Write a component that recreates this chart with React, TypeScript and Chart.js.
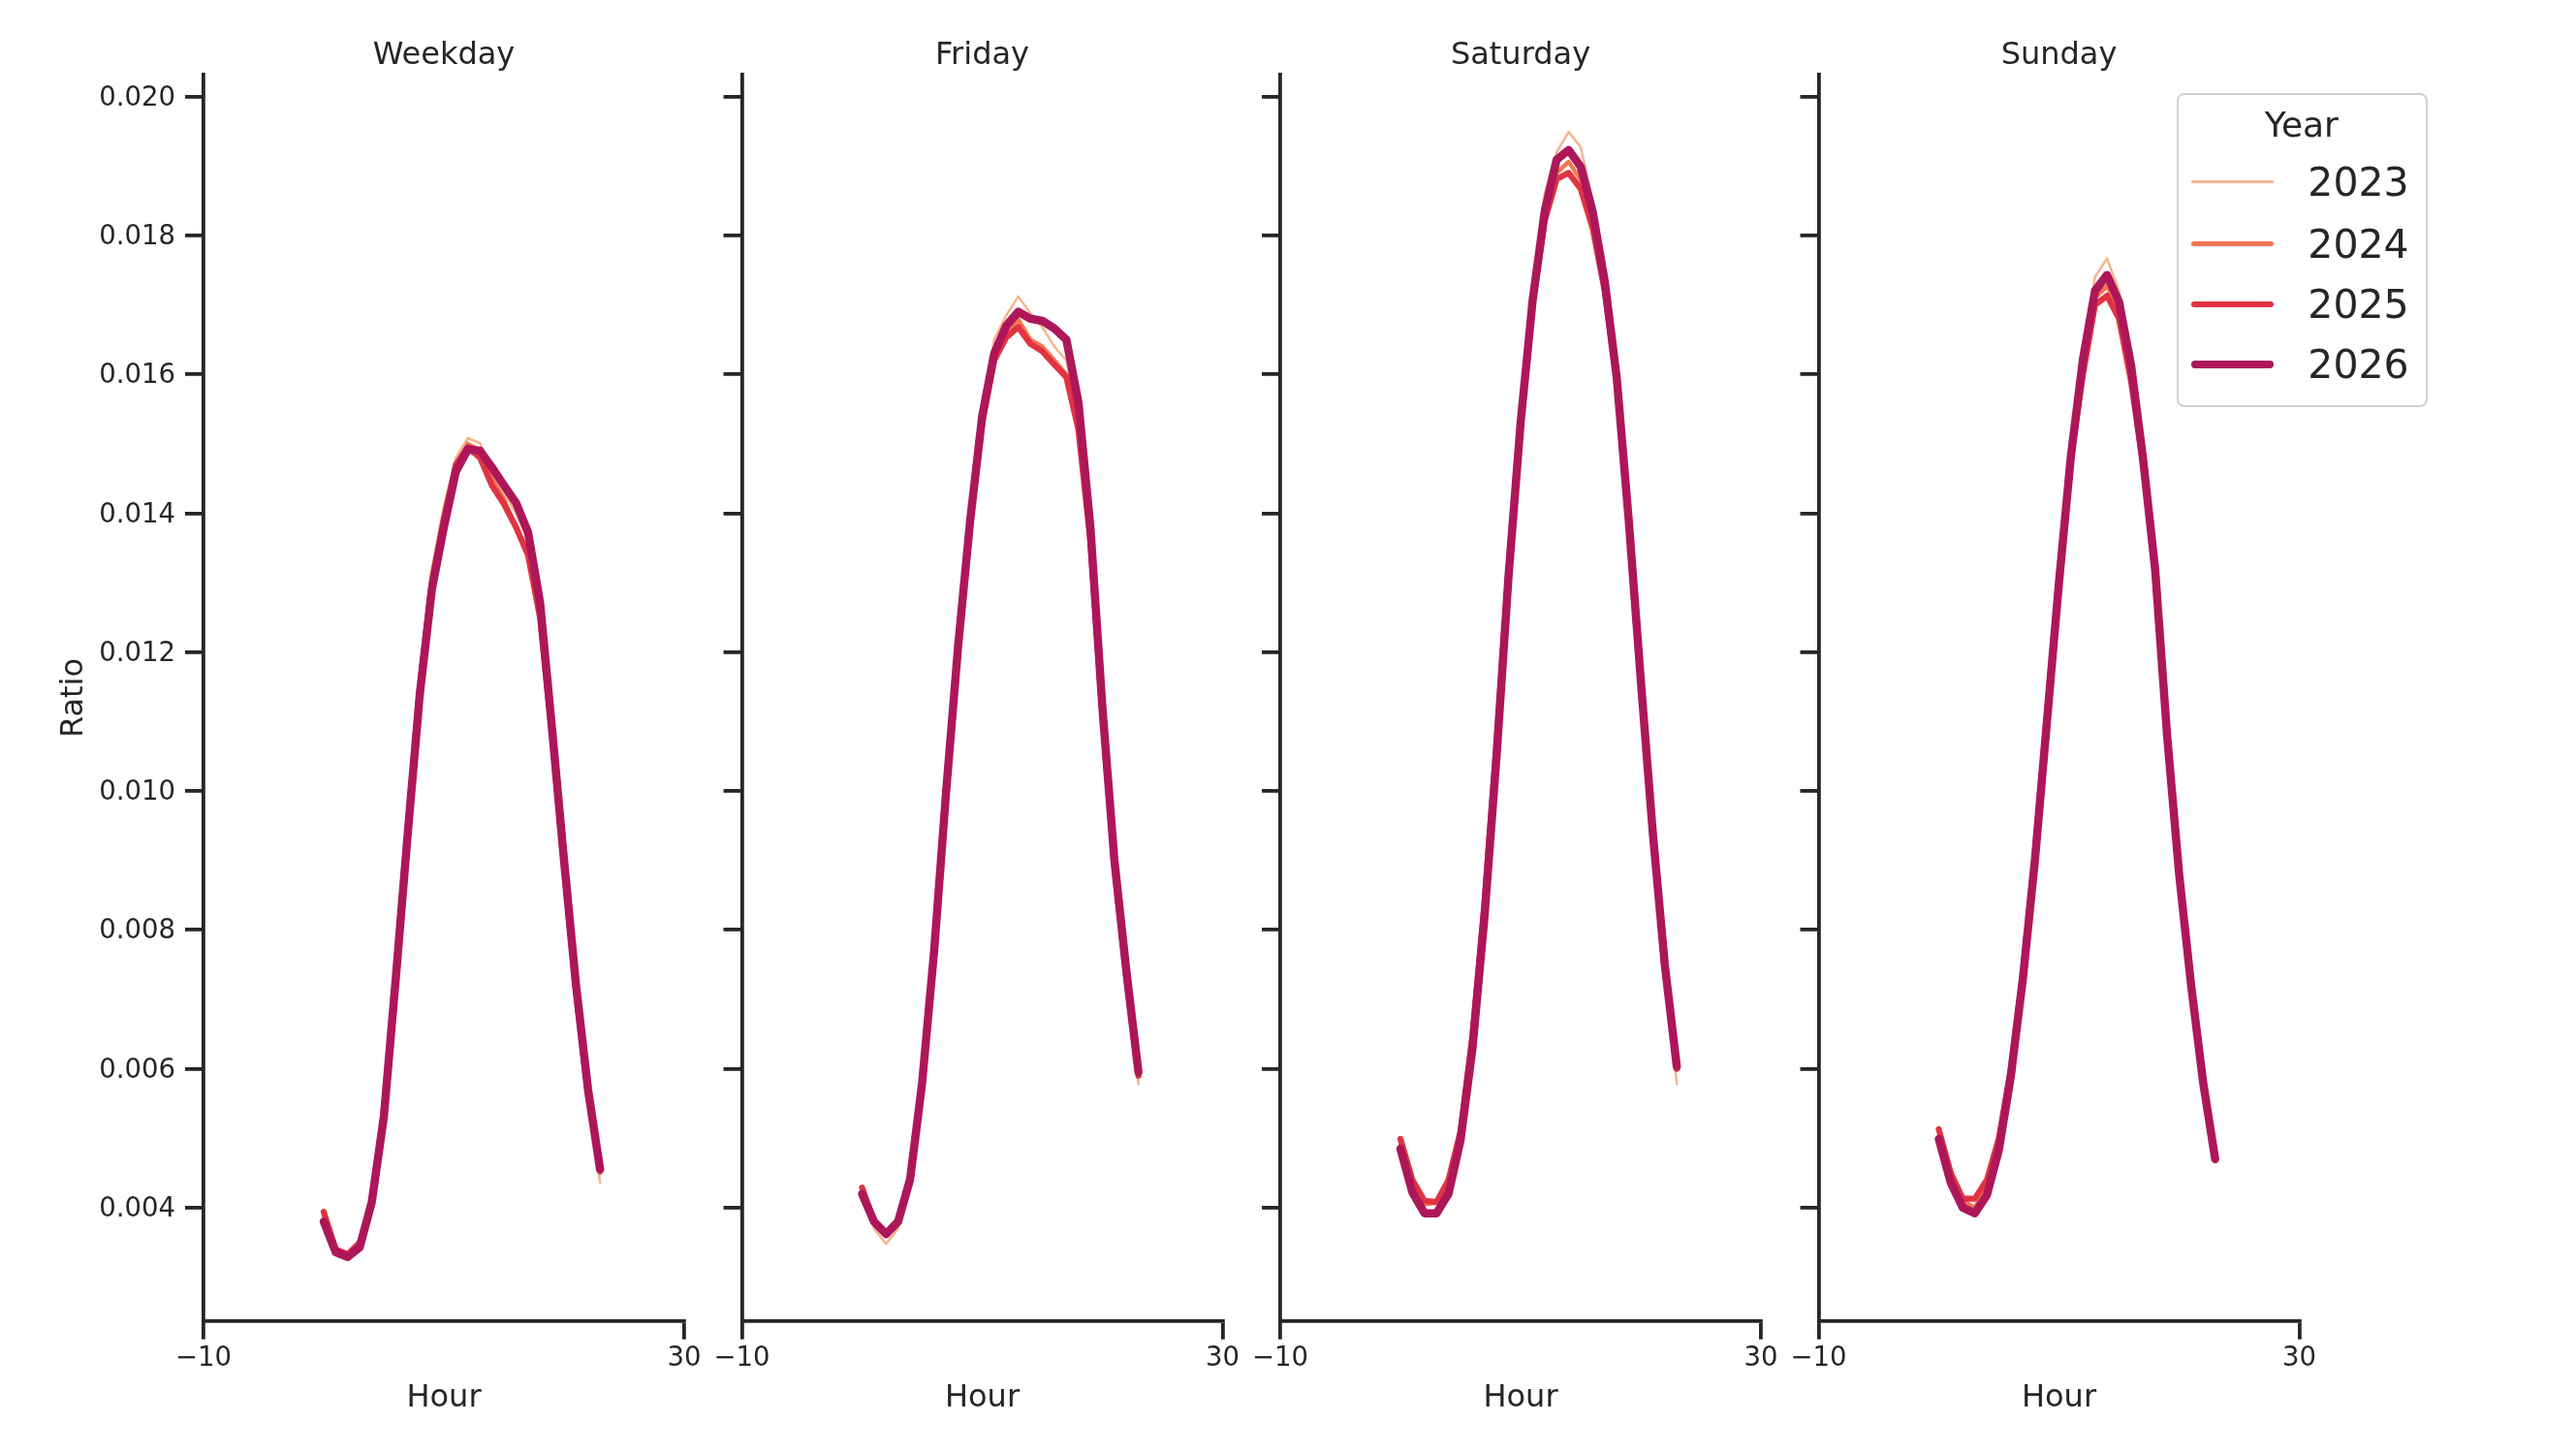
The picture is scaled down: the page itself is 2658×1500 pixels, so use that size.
import React, { useEffect, useRef } from "react";
import { Chart, registerables } from "chart.js";

Chart.register(...registerables);

// ---------------- data ----------------
const hours = [0, 1, 2, 3, 4, 5, 6, 7, 8, 9, 10, 11, 12, 13, 14, 15, 16, 17, 18, 19, 20, 21, 22, 23];
const years = ["2023", "2024", "2025", "2026"];
const panels = ["Weekday", "Friday", "Saturday", "Sunday"];
const yTicks = [0.004, 0.006, 0.008, 0.01, 0.012, 0.014, 0.016, 0.018, 0.02];
const xTicks = [-10, 30];

const weekday2023 = [0.0039, 0.0034, 0.00332, 0.0035, 0.0041, 0.0054, 0.0074, 0.0096, 0.0117, 0.0132, 0.0141, 0.0148, 0.01508, 0.01501, 0.0146, 0.0143, 0.0140, 0.0136, 0.0125, 0.0108, 0.0089, 0.0071, 0.0056, 0.00436];
const weekday2024 = [0.0039, 0.0034, 0.0033, 0.0035, 0.0041, 0.0054, 0.0074, 0.0095, 0.0116, 0.0131, 0.0140, 0.0147, 0.0150, 0.0149, 0.0145, 0.0142, 0.0138, 0.0134, 0.0125, 0.0108, 0.0089, 0.0071, 0.0056, 0.0045];
const weekday2025 = [0.00394, 0.0034, 0.00333, 0.0035, 0.0041, 0.0054, 0.0074, 0.0095, 0.0115, 0.0130, 0.0139, 0.0147, 0.01495, 0.0148, 0.0144, 0.01413, 0.0138, 0.0134, 0.0125, 0.0108, 0.0089, 0.0071, 0.0056, 0.0046];
const weekday2026 = [0.0038, 0.00336, 0.00329, 0.00343, 0.00408, 0.0053, 0.0073, 0.0094, 0.0114, 0.0129, 0.0138, 0.0146, 0.01492, 0.0149, 0.01466, 0.0144, 0.01415, 0.01373, 0.01272, 0.0109, 0.0090, 0.0072, 0.0057, 0.00455];

const friday2023 = [0.0042, 0.0037, 0.00348, 0.0037, 0.0044, 0.0058, 0.0078, 0.0102, 0.0123, 0.0141, 0.0155, 0.0165, 0.01685, 0.01712, 0.01688, 0.01668, 0.0164, 0.0162, 0.0154, 0.0137, 0.0111, 0.0089, 0.0073, 0.00578];
const friday2024 = [0.0042, 0.0038, 0.0036, 0.0038, 0.0044, 0.0058, 0.0078, 0.0101, 0.0122, 0.0140, 0.0154, 0.0163, 0.0166, 0.01679, 0.0165, 0.0164, 0.0162, 0.0160, 0.0153, 0.0137, 0.0111, 0.0089, 0.0073, 0.0059];
const friday2025 = [0.00429, 0.0038, 0.00362, 0.0038, 0.0044, 0.0058, 0.0077, 0.0100, 0.0121, 0.0139, 0.0153, 0.0162, 0.01653, 0.01668, 0.01644, 0.01633, 0.01614, 0.01596, 0.0152, 0.0136, 0.0111, 0.0089, 0.0073, 0.0059];
const friday2026 = [0.0042, 0.0038, 0.00362, 0.0038, 0.00441, 0.0058, 0.0077, 0.0100, 0.0121, 0.0139, 0.0154, 0.0163, 0.0167, 0.0169, 0.0168, 0.01677, 0.01666, 0.0165, 0.0156, 0.0138, 0.0112, 0.0090, 0.0074, 0.00595];

const saturday2023 = [0.0049, 0.0042, 0.0039, 0.0039, 0.0043, 0.0050, 0.0064, 0.0083, 0.0107, 0.0133, 0.0155, 0.0173, 0.0186, 0.0192, 0.01949, 0.01927, 0.0185, 0.0174, 0.0160, 0.0139, 0.0116, 0.0093, 0.0074, 0.00578];
const saturday2024 = [0.0049, 0.0043, 0.00405, 0.00407, 0.0043, 0.0050, 0.0064, 0.0083, 0.0106, 0.0131, 0.0153, 0.0171, 0.0183, 0.0189, 0.01906, 0.0188, 0.0182, 0.0173, 0.0159, 0.0139, 0.0116, 0.0094, 0.0075, 0.0060];
const saturday2025 = [0.00499, 0.0044, 0.0041, 0.00408, 0.0044, 0.0051, 0.0065, 0.0084, 0.0107, 0.0132, 0.0153, 0.0170, 0.0182, 0.01881, 0.0189, 0.01867, 0.0181, 0.0172, 0.0159, 0.0139, 0.0116, 0.0094, 0.0075, 0.0060];
const saturday2026 = [0.00485, 0.00422, 0.00392, 0.00392, 0.0042, 0.00497, 0.0063, 0.0082, 0.0105, 0.0131, 0.0153, 0.01706, 0.01834, 0.01909, 0.01923, 0.01899, 0.01834, 0.01734, 0.01595, 0.0139, 0.0116, 0.0094, 0.0075, 0.00603];

const sunday2023 = [0.0050, 0.0044, 0.0040, 0.00392, 0.0043, 0.0050, 0.0061, 0.0075, 0.0093, 0.0113, 0.0133, 0.0151, 0.0164, 0.0174, 0.01767, 0.0172, 0.0162, 0.0148, 0.0131, 0.0107, 0.0087, 0.0071, 0.0057, 0.00465];
const sunday2024 = [0.0051, 0.0045, 0.0041, 0.0040, 0.0043, 0.0050, 0.0060, 0.0074, 0.0092, 0.0112, 0.0132, 0.0150, 0.0162, 0.0171, 0.01727, 0.0169, 0.0160, 0.0147, 0.0131, 0.0107, 0.0088, 0.0072, 0.0058, 0.0047];
const sunday2025 = [0.00513, 0.0045, 0.00413, 0.00413, 0.0044, 0.0050, 0.0060, 0.0074, 0.0091, 0.0111, 0.0131, 0.0148, 0.0160, 0.0170, 0.01713, 0.0168, 0.0159, 0.0147, 0.0131, 0.0108, 0.0088, 0.0072, 0.0058, 0.0047];
const sunday2026 = [0.00499, 0.00436, 0.004, 0.00392, 0.00418, 0.00483, 0.0059, 0.0073, 0.0090, 0.0110, 0.0130, 0.01483, 0.01622, 0.0172, 0.01743, 0.01704, 0.01613, 0.01478, 0.0132, 0.0108, 0.0088, 0.0072, 0.0058, 0.0047];

const panelSeries = [
  [weekday2023, weekday2024, weekday2025, weekday2026],
  [friday2023, friday2024, friday2025, friday2026],
  [saturday2023, saturday2024, saturday2025, saturday2026],
  [sunday2023, sunday2024, sunday2025, sunday2026],
];

// ---------------- styles ----------------
const yearColors = ["#f6b48f", "#f37651", "#e13342", "#ad1759"];
const yearWidths = [2.5, 4.3, 6.2, 8.5];
const FONT = "'DejaVu Sans', sans-serif";
const INK = "#262626";
const PLOT_LEFT = [210, 765.5, 1321, 1876.5];
const PLOT_W = 496;
const RIGHT_PAD = 40;
const H = 1500;
const AXIS_LW = 3.8;

const fmtX = (v: number) => (v < 0 ? "\u2212" + Math.abs(v) : String(v));

function Panel({ index }: { index: number }) {
  const ref = useRef<HTMLCanvasElement | null>(null);
  const canvasLeft = index === 0 ? 0 : Math.floor(PLOT_LEFT[index] - 50);
  const yW = PLOT_LEFT[index] - canvasLeft;
  const w = Math.ceil(yW + PLOT_W + RIGHT_PAD);

  useEffect(() => {
    if (!ref.current) return;
    const first = index === 0;
    const datasets = years.map((yr, k) => ({
      label: yr,
      data: hours.map((h, j) => ({ x: h, y: panelSeries[index][k][j] })),
      borderColor: yearColors[k],
      backgroundColor: yearColors[k],
      borderWidth: yearWidths[k],
      pointRadius: 0,
      tension: 0,
      fill: false,
      borderCapStyle: "round" as const,
      borderJoinStyle: "round" as const,
      order: 3 - k,
    }));
    const gridOpts = {
      display: true,
      drawOnChartArea: false,
      drawTicks: true,
      tickLength: 19,
      tickWidth: AXIS_LW,
      tickColor: INK,
      color: INK,
      lineWidth: AXIS_LW,
    };
    const chart = new Chart(ref.current, {
      type: "line",
      data: { datasets },
      options: {
        animation: false,
        responsive: false,
        maintainAspectRatio: false,
        events: [],
        layout: { padding: { left: 0, right: w - yW - PLOT_W, top: 0, bottom: 0 } },
        plugins: {
          legend: { display: false },
          tooltip: { enabled: false },
          title: {
            display: true,
            text: panels[index],
            fullSize: false,
            color: INK,
            font: { family: FONT, size: 32, weight: "normal" },
            padding: { top: 38.4, bottom: 0.5 },
          },
        },
        scales: {
          x: {
            type: "linear",
            min: -10,
            max: 30,
            afterBuildTicks: (s: any) => {
              s.ticks = xTicks.map((v) => ({ value: v }));
            },
            afterFit: (s: any) => {
              s.height = 137.3;
            },
            ticks: {
              color: INK,
              font: { family: FONT, size: 27.5 },
              padding: 4,
              maxRotation: 0,
              autoSkip: false,
              callback: (v: any) => fmtX(Number(v)),
            },
            grid: gridOpts,
            border: { display: true, color: INK, width: AXIS_LW },
            title: {
              display: true,
              text: "Hour",
              color: INK,
              font: { family: FONT, size: 32 },
              padding: { top: 0, bottom: 38.6 },
            },
          },
          y: {
            type: "linear",
            min: 0.00237,
            max: 0.02031,
            afterBuildTicks: (s: any) => {
              s.ticks = yTicks.map((v) => ({ value: v }));
            },
            afterFit: (s: any) => {
              s.width = yW;
            },
            ticks: {
              display: first,
              color: INK,
              font: { family: FONT, size: 27.5 },
              padding: 10,
              labelOffset: 2,
              autoSkip: false,
              callback: (v: any) => Number(v).toFixed(3),
            },
            grid: gridOpts,
            border: { display: true, color: INK, width: AXIS_LW },
            title: {
              display: first,
              text: "Ratio",
              color: INK,
              font: { family: FONT, size: 32 },
              padding: { top: 57.5, bottom: 0 },
            },
          },
        },
      } as any,
    });
    return () => chart.destroy();
  }, [index]);

  return (
    <canvas
      ref={ref}
      width={w}
      height={H}
      style={{ position: "absolute", left: canvasLeft, top: 0, width: w, height: H }}
    />
  );
}

function Legend() {
  const rowCenters = [188.3, 252.3, 314.3, 376.7];
  const boxL = 2246;
  const boxT = 96;
  const bw = 2.7;
  return (
    <div
      style={{
        position: "absolute",
        left: boxL,
        top: boxT,
        width: 259,
        height: 324,
        boxSizing: "border-box",
        border: `${bw}px solid #d0d0d0`,
        borderRadius: 8,
        background: "rgba(255,255,255,0.8)",
        fontFamily: FONT,
        color: INK,
      }}
    >
      <div
        style={{
          position: "absolute",
          left: 0,
          width: 259 - 2 * bw,
          top: 129.7 - boxT - bw - 22,
          height: 44,
          lineHeight: "44px",
          fontSize: 36,
          textAlign: "center",
        }}
      >
        Year
      </div>
      {years.map((yr, k) => (
        <React.Fragment key={yr}>
          <div
            style={{
              position: "absolute",
              left: 2262 - boxL - bw,
              top: rowCenters[k] - boxT - bw - yearWidths[k] / 2,
              width: 85,
              height: yearWidths[k],
              borderRadius: yearWidths[k] / 2,
              background: yearColors[k],
            }}
          />
          <div
            style={{
              position: "absolute",
              left: 2382 - boxL - bw,
              top: rowCenters[k] - boxT - bw - 25,
              height: 50,
              lineHeight: "50px",
              fontSize: 41,
              whiteSpace: "nowrap",
            }}
          >
            {yr}
          </div>
        </React.Fragment>
      ))}
    </div>
  );
}

export default function App() {
  return (
    <div
      style={{
        position: "fixed",
        left: 0,
        top: 0,
        width: 2658,
        height: H,
        background: "#ffffff",
        overflow: "hidden",
      }}
    >
      {panels.map((p, i) => (
        <Panel key={p} index={i} />
      ))}
      <Legend />
    </div>
  );
}
